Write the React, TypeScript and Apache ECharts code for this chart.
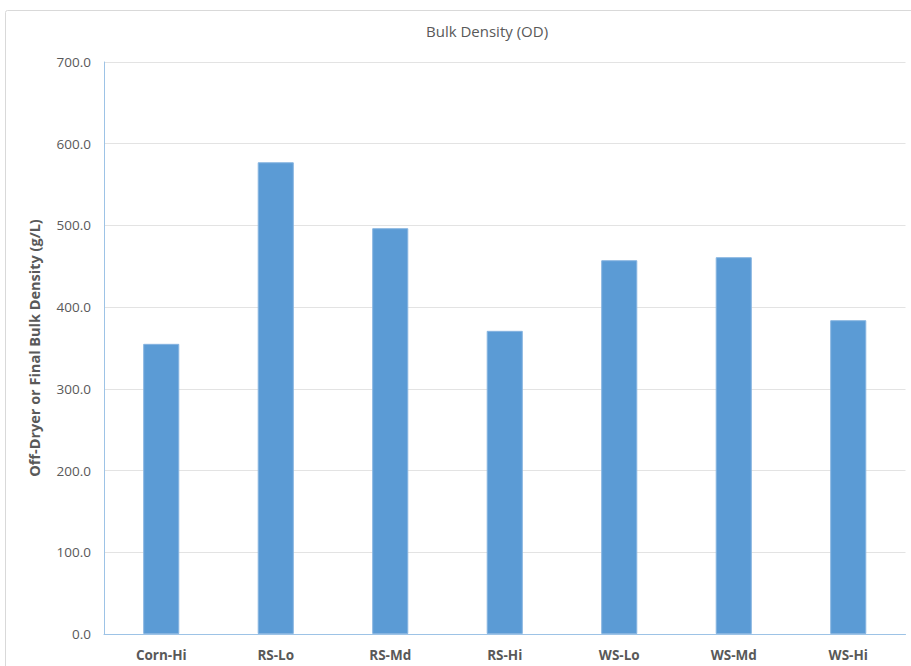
import React, { useEffect, useRef } from "react";
import * as echarts from "echarts";

// Samples and their off-dryer bulk density (g/L)
const categories = ["Corn-Hi", "RS-Lo", "RS-Md", "RS-Hi", "WS-Lo", "WS-Md", "WS-Hi"];
const bulkDensity = [355.1, 577.3, 496.6, 371.0, 457.4, 461.1, 384.0];

const chartTitle = "Bulk Density (OD)";
const yAxisTitle = "Off-Dryer or Final Bulk Density (g/L)";

const FONT = "'Open Sans', 'Noto Sans', sans-serif";
const TEXT_GREY = "#595959";

export default function App() {
  const ref = useRef<HTMLDivElement>(null);

  useEffect(() => {
    if (!ref.current) return;
    const chart = echarts.init(ref.current, null, { renderer: "svg" });
    chart.setOption({
      animation: false,
      backgroundColor: "#ffffff",
      graphic: [
        {
          type: "rect",
          shape: { x: 5.5, y: 10.5, width: 930, height: 700, r: 2 },
          style: { fill: "none", stroke: "#d9d9d9", lineWidth: 1 },
          silent: true,
          z: -1,
        },
        {
          type: "text",
          left: 426,
          top: 23,
          style: {
            text: chartTitle,
            fill: TEXT_GREY,
            font: `15px ${FONT}`,
          },
        },
      ],
      grid: { left: 104, right: 5.5, top: 62, bottom: 32, containLabel: false },
      xAxis: {
        type: "category",
        data: categories,
        axisLine: { lineStyle: { color: "#9dc3e6", width: 1 } },
        axisTick: { show: false },
        axisLabel: {
          color: TEXT_GREY,
          fontFamily: FONT,
          fontWeight: "bold",
          fontSize: 13.5,
          margin: 14,
        },
      },
      yAxis: {
        type: "value",
        min: 0,
        max: 700,
        interval: 100,
        name: yAxisTitle,
        nameLocation: "middle",
        nameGap: 62,
        nameTextStyle: {
          color: TEXT_GREY,
          fontFamily: FONT,
          fontWeight: "bold",
          fontSize: 14.5,
        },
        axisLine: { show: true, lineStyle: { color: "#9dc3e6", width: 1 } },
        axisTick: { show: false },
        axisLabel: {
          color: TEXT_GREY,
          fontFamily: FONT,
          fontSize: 13.5,
          margin: 13,
          formatter: (v: number) => v.toFixed(1),
        },
        splitLine: { lineStyle: { color: "#e3e3e3", width: 1 } },
      },
      series: [
        {
          type: "bar",
          data: bulkDensity,
          barWidth: "31.5%",
          itemStyle: { color: "#5b9bd5", borderColor: "#86b4e0", borderWidth: 1 },
        },
      ],
    });
    return () => chart.dispose();
  }, []);

  return (
    <div
      ref={ref}
      style={{ position: "fixed", left: 0, top: 0, width: 911, height: 666, background: "#fff" }}
    />
  );
}
